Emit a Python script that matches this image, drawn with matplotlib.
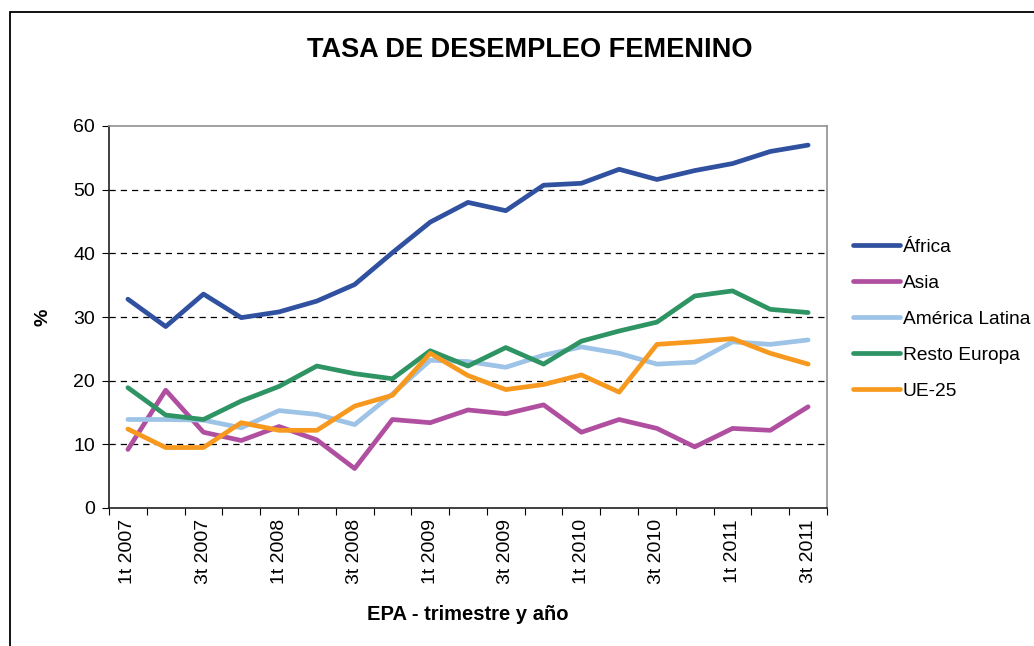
import matplotlib
matplotlib.use("Agg")
import matplotlib.pyplot as plt
from matplotlib.patches import Rectangle

plt.rcParams['font.family'] = ['Liberation Sans', 'DejaVu Sans']

quarters = ['1t 2007', '2t 2007', '3t 2007', '4t 2007',
            '1t 2008', '2t 2008', '3t 2008', '4t 2008',
            '1t 2009', '2t 2009', '3t 2009', '4t 2009',
            '1t 2010', '2t 2010', '3t 2010', '4t 2010',
            '1t 2011', '2t 2011', '3t 2011']

africa = [32.8, 28.5, 33.6, 29.9, 30.8, 32.5, 35.1, 40.1, 44.9, 48.0,
          46.7, 50.7, 51.0, 53.2, 51.6, 53.0, 54.1, 56.0, 57.0]
asia = [9.2, 18.5, 11.9, 10.6, 12.8, 10.7, 6.2, 13.9, 13.4, 15.4,
        14.8, 16.2, 11.9, 13.9, 12.5, 9.6, 12.5, 12.2, 15.9]
america_latina = [13.9, 13.9, 13.8, 12.6, 15.3, 14.7, 13.1, 17.9, 23.2, 23.0,
                  22.1, 24.0, 25.3, 24.3, 22.6, 22.9, 26.1, 25.7, 26.4]
resto_europa = [18.9, 14.6, 13.9, 16.8, 19.1, 22.3, 21.1, 20.3, 24.7, 22.3,
                25.2, 22.6, 26.2, 27.8, 29.2, 33.3, 34.1, 31.2, 30.7]
ue25 = [12.4, 9.5, 9.5, 13.4, 12.2, 12.2, 16.0, 17.7, 24.3, 20.8,
        18.6, 19.4, 20.9, 18.2, 25.7, 26.1, 26.6, 24.3, 22.6]

series = [
    ('África', africa, '#3050A0'),
    ('Asia', asia, '#B04FA0'),
    ('América Latina', america_latina, '#9DC3E6'),
    ('Resto Europa', resto_europa, '#2E9463'),
    ('UE-25', ue25, '#F7991E'),
]

W, H = 1034, 646
fig = plt.figure(figsize=(W / 100, H / 100), dpi=100)
ax = fig.add_axes([109 / W, 1 - 508 / H, 718 / W, 382 / H])

x = list(range(len(quarters)))
for name, vals, col in series:
    ax.plot(x, vals, color=col, lw=3.4, label=name, solid_capstyle='round')

ax.set_xlim(-0.5, len(quarters) - 0.5)
ax.set_ylim(0, 60)
ax.set_yticks(range(0, 61, 10))
ax.tick_params(axis='y', direction='out', length=5, labelsize=14, pad=5)

# category boundaries as major ticks, labels on every other quarter
ax.set_xticks([i - 0.5 for i in range(len(quarters) + 1)])
ax.set_xticklabels([])
ax.set_xticks(x[::2], minor=True)
ax.set_xticklabels(quarters[::2], minor=True, rotation=90, fontsize=14)
ax.tick_params(axis='x', which='major', direction='out', length=5)
ax.tick_params(axis='x', which='minor', length=0, pad=8)

for y in range(10, 60, 10):
    ax.axhline(y, color='black', lw=0.9, ls=(0, (5, 4)), zorder=0)

for s in ['left', 'bottom']:
    ax.spines[s].set_color('#202020')
    ax.spines[s].set_linewidth(1.2)
for s in ['top', 'right']:
    ax.spines[s].set_color('#909090')
    ax.spines[s].set_linewidth(1.2)

ax.set_ylabel('%', fontsize=14, fontweight='bold', labelpad=16)
ax.set_xlabel('EPA - trimestre y año', fontsize=14.5, fontweight='bold', labelpad=15)

fig.text(530 / W, 1 - 50 / H, 'TASA DE DESEMPLEO FEMENINO', ha='center',
         va='center', fontsize=19.5, fontweight='bold')

fig.legend(loc='upper left', bbox_to_anchor=(853 / W, 1 - 238.5 / H),
           frameon=False, fontsize=13.8, handlelength=2.45, handletextpad=0.15,
           labelspacing=0.97, borderpad=0, borderaxespad=0)

fig.patches.append(Rectangle((10 / W, -0.1), 1.5, 1 - 12 / H + 0.1,
                             transform=fig.transFigure, fill=False,
                             ec='black', lw=1.3))

fig.savefig('out.png', dpi=100)
